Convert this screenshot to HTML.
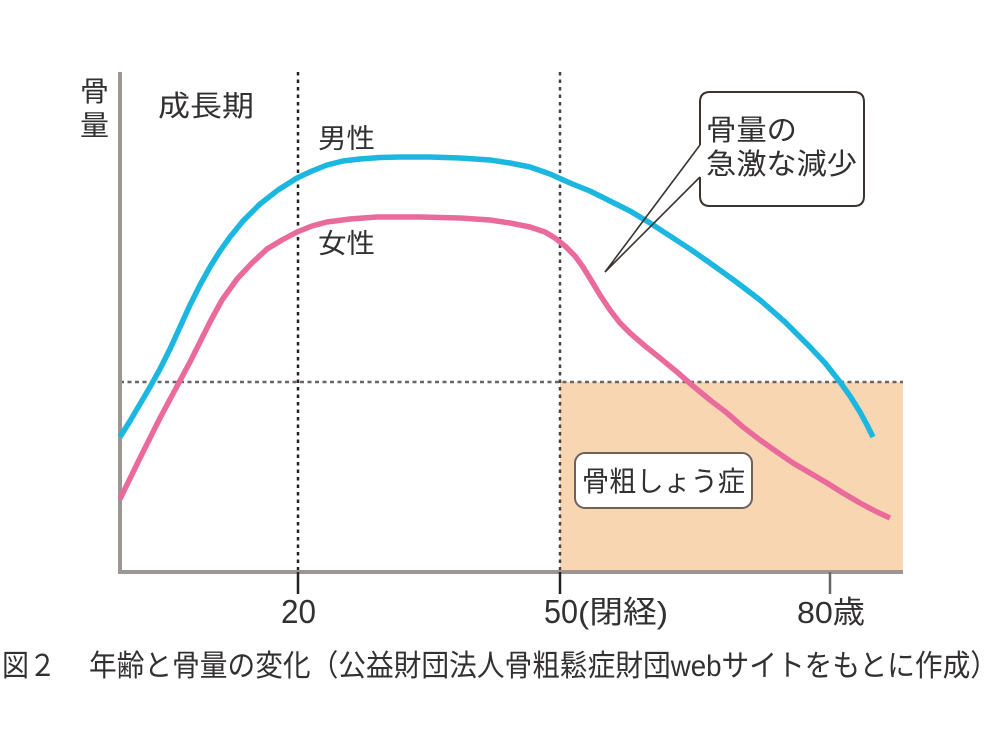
<!DOCTYPE html>
<html><head><meta charset="utf-8"><style>
html,body{margin:0;padding:0;background:#fff;}
svg{display:block;}
text{font-family:"Liberation Sans","Noto Sans CJK JP",sans-serif;fill:#333030;}
</style></head><body>
<svg width="1000" height="749" viewBox="0 0 1000 749" xmlns="http://www.w3.org/2000/svg">
<rect x="0" y="0" width="1000" height="749" fill="#fff"/>
<!-- osteoporosis zone -->
<rect x="560" y="382" width="343" height="190" fill="#f9d6b2"/>
<!-- dotted lines -->
<line x1="120" y1="382" x2="903" y2="382" stroke="#6a6563" stroke-width="2.5" stroke-dasharray="4 3.5"/>
<line x1="298" y1="72" x2="298" y2="572" stroke="#222" stroke-width="2.5" stroke-dasharray="3.5 4"/>
<line x1="560" y1="72" x2="560" y2="572" stroke="#444" stroke-width="2.5" stroke-dasharray="3.5 4"/>
<!-- axes -->
<line x1="120" y1="72" x2="120" y2="574" stroke="#9b9693" stroke-width="4"/>
<line x1="118" y1="572" x2="903" y2="572" stroke="#9b9693" stroke-width="4"/>
<line x1="298" y1="572" x2="298" y2="594" stroke="#222" stroke-width="2.5"/>
<line x1="560" y1="572" x2="560" y2="594" stroke="#222" stroke-width="2.5"/>
<line x1="830" y1="572" x2="830" y2="594" stroke="#666" stroke-width="2.5"/>
<!-- curves -->
<polyline fill="none" stroke="#1cb7e0" stroke-width="5.5" stroke-linejoin="round" points="120,437 130,421 140,404 150,387 160,369 170,349 180,327 190,305 200,285 210,267 220,251 230,237 243,221 260,204 278,190 297,178 312,171 327,165 343,161 360,159 380,157.5 400,157 430,157 460,158 490,160 510,163 530,167 550,174 570,183 590,191 610,201 630,211 650,223 670,236 690,249 710,263 735,281 760,300 785,322 810,347 825,363 840,382 850,396 860,412 867,425 873,437"/>
<polyline fill="none" stroke="#ea6a9b" stroke-width="5.5" stroke-linejoin="round" points="120,499 140,458 160,418 175,390 190,362 200,342 210,322 222,300 237,279 252,263 267,249 282,240 297,232 312,226 327,222 350,219 377,217 420,217 460,218 490,220 510,223 530,227 545,232 555,238 565,246 575,256 583,267 591,280 600,295 610,310 620,323 630,333 645,346 660,358 677,372 693,386 710,400 727,413 743,427 760,440 777,452 793,463 810,473 827,483 843,493 860,503 875,511 890,518"/>
<!-- callout -->
<path d="M700,145 L700,102 Q700,92 710,92 L854,92 Q864,92 864,102 L864,196 Q864,206 854,206 L710,206 Q700,206 700,196 L700,177" fill="#fff" stroke="#3a3330" stroke-width="2"/>
<path d="M700,145 L605,272 L700,177" fill="none" stroke="#3a3330" stroke-width="1.6" stroke-linejoin="miter"/>
<text x="706" y="140" font-size="29" textLength="91" lengthAdjust="spacingAndGlyphs">骨量の</text>
<text x="706" y="174" font-size="29" textLength="151" lengthAdjust="spacingAndGlyphs">急激な減少</text>
<!-- osteoporosis label -->
<rect x="575" y="453" width="177" height="55" rx="10" ry="10" fill="#fff" stroke="#6b625e" stroke-width="2"/>
<text x="582" y="491" font-size="28" textLength="163" lengthAdjust="spacingAndGlyphs">骨粗しょう症</text>
<!-- labels -->
<text x="80" y="101" font-size="28" textLength="29" lengthAdjust="spacingAndGlyphs">骨</text>
<text x="80" y="135" font-size="28" textLength="29" lengthAdjust="spacingAndGlyphs">量</text>
<text x="158" y="116" font-size="29" textLength="96" lengthAdjust="spacingAndGlyphs">成長期</text>
<text x="318" y="148" font-size="27" textLength="57" lengthAdjust="spacingAndGlyphs">男性</text>
<text x="318" y="253" font-size="27" textLength="57" lengthAdjust="spacingAndGlyphs">女性</text>
<!-- tick labels -->
<text x="281" y="623" font-size="33" textLength="35" lengthAdjust="spacingAndGlyphs">20</text>
<text x="544" y="623" font-size="33" textLength="34" lengthAdjust="spacingAndGlyphs">50</text>
<text x="578" y="623" font-size="31" textLength="90" lengthAdjust="spacingAndGlyphs">(閉経)</text>
<text x="797" y="623" font-size="31" textLength="68" lengthAdjust="spacingAndGlyphs">80歳</text>
<!-- caption -->
<text x="2" y="676" font-size="30" textLength="54" lengthAdjust="spacingAndGlyphs">図２</text>
<text x="89" y="676" font-size="30" textLength="909" lengthAdjust="spacingAndGlyphs">年齢と骨量の変化（公益財団法人骨粗鬆症財団webサイトをもとに作成）</text>
</svg>
</body></html>
